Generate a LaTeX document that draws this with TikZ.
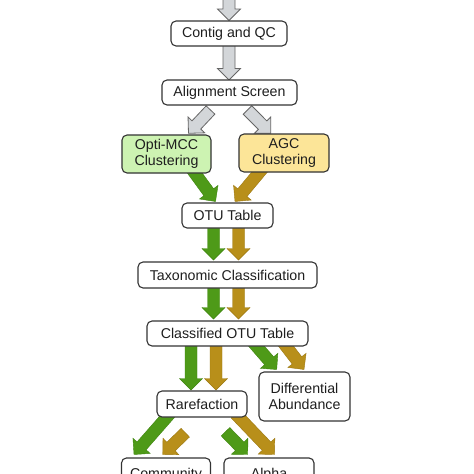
\documentclass[tikz,border=0pt]{standalone}
\usepackage{fontspec}
\setmainfont{Liberation Sans}
\usetikzlibrary{calc}
\definecolor{boxline}{HTML}{333333}
\definecolor{textc}{HTML}{1E1E1E}
\definecolor{grayfill}{HTML}{D3D6D9}
\definecolor{grayline}{HTML}{666666}
\definecolor{greenA}{HTML}{4E9A18}
\definecolor{greenL}{HTML}{3F8410}
\definecolor{goldA}{HTML}{B88F1A}
\definecolor{goldL}{HTML}{9C7812}
\definecolor{optifill}{HTML}{CDF3B2}
\definecolor{agcfill}{HTML}{FCE598}
\newcommand\barrow[3][]{%
  \coordinate (bh) at ($(#3)!11.5pt!(#2)$);
  \filldraw[#1] ($(#2)!6pt!90:(#3)$) -- ($(bh)!6pt!90:(#3)$) -- ($(bh)!11.5pt!90:(#3)$)
    -- (#3) -- ($(bh)!11.5pt!-90:(#3)$) -- ($(bh)!6pt!-90:(#3)$) -- ($(#2)!6pt!-90:(#3)$) -- cycle;}
\tikzset{
  box/.style={draw=boxline, line width=1.1pt, rounded corners=5pt, fill=white, inner sep=0pt,
    font=\fontsize{14.2}{16.5}\selectfont, text=textc, align=center},
  grayarr/.style={fill=grayfill, draw=grayline, line width=0.8pt, line join=miter},
  greenarr/.style={fill=greenA, draw=greenL, line width=0.4pt, line join=miter},
  goldarr/.style={fill=goldA, draw=goldL, line width=0.4pt, line join=miter},
}
\begin{document}
\begin{tikzpicture}[x=1pt,y=-1pt]
\useasboundingbox (0,0) rectangle (474,474);
\clip (0,0) rectangle (474,474);
\fill[white] (0,0) rectangle (474,474);
% arrow end points
\coordinate (g1s) at (229,-6);   \coordinate (g1t) at (229,20.5);
\coordinate (g2s) at (229,40);   \coordinate (g2t) at (229,80);
\coordinate (g3s) at (210.5,110); \coordinate (g3t) at (188.5,133.3);
\coordinate (g4s) at (247.5,110); \coordinate (g4t) at (270.7,133.3);
\coordinate (c1s) at (190.7,167.5); \coordinate (c1t) at (215.5,201.5);
\coordinate (c2s) at (263,168);     \coordinate (c2t) at (235,201.5);
\coordinate (c3s) at (213.5,222); \coordinate (c3t) at (213.5,260);
\coordinate (c4s) at (238.5,222); \coordinate (c4t) at (238.5,260);
\coordinate (c5s) at (213.5,282); \coordinate (c5t) at (213.5,319);
\coordinate (c6s) at (238.5,282); \coordinate (c6t) at (238.5,319);
\coordinate (c7s) at (191,340); \coordinate (c7t) at (191,390);
\coordinate (c8s) at (216,340); \coordinate (c8t) at (216,390);
\coordinate (c9s) at (252,341);  \coordinate (c9t) at (276.7,369.5);
\coordinate (c10s) at (282,341); \coordinate (c10t) at (304,369.5);
\coordinate (c11s) at (171.3,412); \coordinate (c11t) at (134,454.5);
\coordinate (c12s) at (185.3,432.7); \coordinate (c12t) at (162.7,454.5);
\coordinate (c13s) at (225.5,431.7); \coordinate (c13t) at (247.7,454.5);
\coordinate (c14s) at (235.5,413.8); \coordinate (c14t) at (274.5,454.5);
% arrows
\barrow[grayarr]{g1s}{g1t}
\barrow[grayarr]{g2s}{g2t}
\barrow[grayarr]{g3s}{g3t}
\barrow[grayarr]{g4s}{g4t}
\barrow[greenarr]{c1s}{c1t}
\barrow[goldarr]{c2s}{c2t}
\barrow[greenarr]{c3s}{c3t}
\barrow[goldarr]{c4s}{c4t}
\barrow[greenarr]{c5s}{c5t}
\barrow[goldarr]{c6s}{c6t}
\barrow[greenarr]{c7s}{c7t}
\barrow[goldarr]{c8s}{c8t}
\barrow[greenarr]{c9s}{c9t}
\barrow[goldarr]{c10s}{c10t}
\barrow[greenarr]{c11s}{c11t}
\barrow[goldarr]{c12s}{c12t}
\barrow[greenarr]{c13s}{c13t}
\barrow[goldarr]{c14s}{c14t}
% boxes
\node[box, minimum width=116pt, minimum height=25pt] (contig) at (229,33.5) {Contig and QC};
\node[box, minimum width=135pt, minimum height=25pt] (align) at (229.5,92.5) {Alignment Screen};
\node[box, fill=optifill, minimum width=89pt, minimum height=38pt] (opti) at (166.5,154) {Opti-MCC\\Clustering};
\node[box, fill=agcfill, minimum width=90pt, minimum height=38pt] (agc) at (284,153) {AGC\\Clustering};
\node[box, minimum width=91pt, minimum height=25pt] (otu) at (227.5,215.5) {OTU Table};
\node[box, minimum width=179pt, minimum height=26pt] (taxo) at (227.5,275) {Taxonomic Classification};
\node[box, minimum width=161pt, minimum height=25pt] (classd) at (227.5,333.5) {Classified OTU Table};
\node[box, minimum width=90pt, minimum height=26pt] (rare) at (202,404) {Rarefaction};
\node[box, minimum width=91pt, minimum height=49pt] (diff) at (304.5,396.5) {Differential\\Abundance};
\node[box, minimum width=89pt, minimum height=49pt, text height=10.5pt, text depth=19pt, anchor=base] (comm) at (166,478.2) {Community};
\node[box, minimum width=90pt, minimum height=49pt, text height=10.5pt, text depth=19pt, anchor=base] (alpha) at (269,478.2) {Alpha};
\end{tikzpicture}
\end{document}
